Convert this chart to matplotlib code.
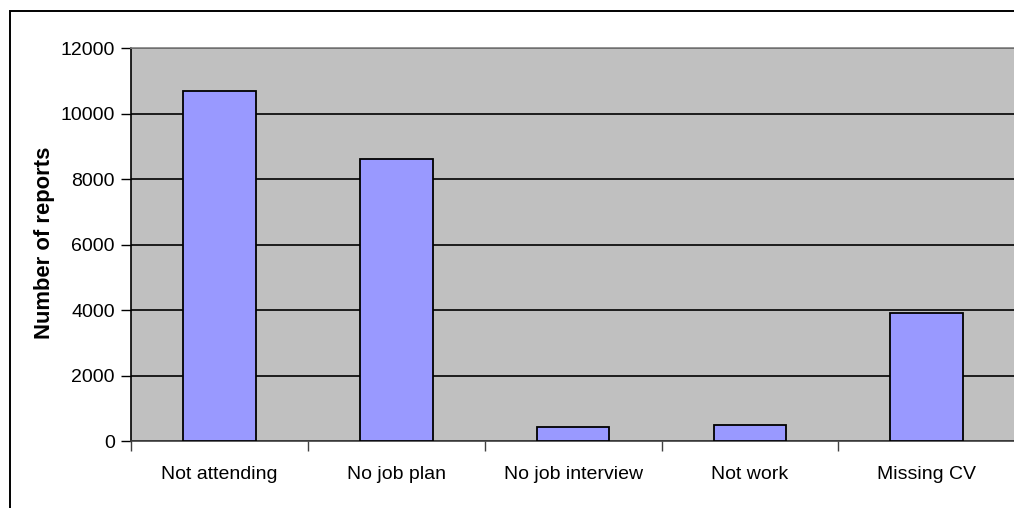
import matplotlib
matplotlib.use("Agg")
import matplotlib.pyplot as plt
from matplotlib.patches import Rectangle
import numpy as np

categories = ["Not attending", "No job plan", "No job interview", "Not work", "Missing CV"]
values = [10700, 8620, 440, 500, 3910]
yticks = [0, 2000, 4000, 6000, 8000, 10000, 12000]

plt.rcParams['font.family'] = ['Liberation Sans', 'DejaVu Sans']

W, H = 1014, 508
fig = plt.figure(figsize=(W / 100, H / 100), dpi=100)
fig.patch.set_facecolor('white')

# outer chart border
fig.patches.append(Rectangle((10 / W, -0.1), 1.2, (H - 11) / H + 0.1, transform=fig.transFigure,
                             fill=False, edgecolor='black', linewidth=1.4, zorder=0))

left, right, top, bottom = 131.3, 1015.0, 48.3, 441.0
ax = fig.add_axes([left / W, (H - bottom) / H, (right - left) / W, (bottom - top) / H])
ax.set_facecolor('#C0C0C0')

x = np.arange(len(categories))
ax.bar(x, values, width=0.41, color='#9999FF', edgecolor='black', linewidth=1.3, zorder=3)

ax.set_xlim(-0.5, len(categories) - 0.5)
ax.set_ylim(0, 12000)
ax.set_yticks(yticks)
ax.set_yticklabels([str(v) for v in yticks], fontsize=14)
ax.yaxis.grid(True, color='black', linewidth=1.2, zorder=1)
ax.set_axisbelow(True)

ax.set_xticks(x)
ax.set_xticklabels(categories, fontsize=14)
ax.tick_params(axis='x', which='major', length=0, pad=18)
ax.set_xticks(np.arange(len(categories) + 1) - 0.5, minor=True)
ax.tick_params(axis='x', which='minor', length=7, width=1.0, color='#404040', direction='out')
ax.tick_params(axis='y', length=7, width=1.0, color='black', direction='out', pad=5)

ax.spines['left'].set_color('black')
ax.spines['left'].set_linewidth(1.2)
ax.spines['bottom'].set_color('#404040')
ax.spines['bottom'].set_linewidth(1.2)
ax.spines['top'].set_color('#808080')
ax.spines['top'].set_linewidth(1.2)
ax.spines['right'].set_visible(False)

ax.set_ylabel('Number of reports', fontsize=15.8, fontweight='bold', labelpad=0)
ax.yaxis.set_label_coords(-(left - 55) / (right - left), (bottom - 243) / (bottom - top))

fig.savefig('out.png', dpi=100)
